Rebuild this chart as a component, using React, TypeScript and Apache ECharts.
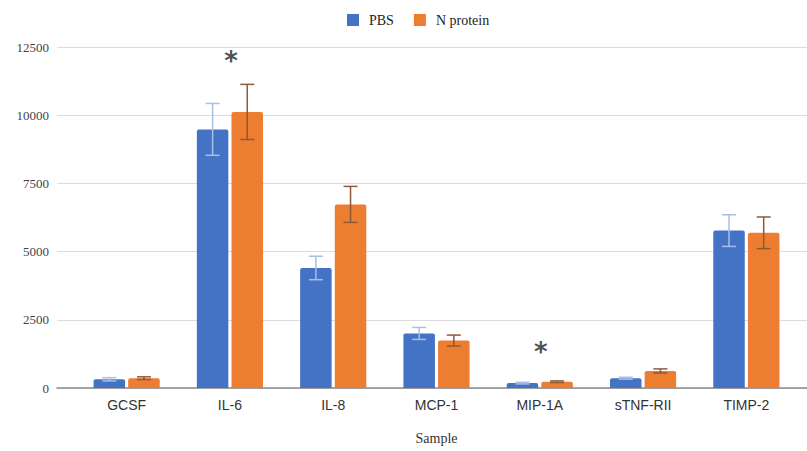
import React, { useEffect, useRef } from "react";
import * as echarts from "echarts";

// Cytokine levels by treatment group
const categories = ["GCSF", "IL-6", "IL-8", "MCP-1", "MIP-1A", "sTNF-RII", "TIMP-2"];
const pbsValues = [320, 9480, 4400, 2000, 180, 360, 5770];
const pbsErrors = [60, 950, 430, 220, 30, 35, 580];
const nProteinValues = [360, 10120, 6730, 1740, 230, 625, 5690];
const nProteinErrors = [50, 1010, 660, 200, 30, 75, 580];
// Height of the significance marker for each category (null = no marker)
const significanceHeights: (number | null)[] = [null, 12170, null, null, 1500, null, null];
const yTicks = { min: 0, max: 12500, interval: 2500 };

const BLUE = "#4472C4";
const ORANGE = "#ED7D31";
const BAR_RATIO = 0.305;
const GAP_RATIO = 0.1;

function errorSeries(name: string, values: number[], errors: number[], side: number, color: string) {
  return {
    type: "custom",
    name: name + " error",
    xAxisIndex: 1,
    yAxisIndex: 1,
    z: 5,
    silent: true,
    data: values.map((v, i) => [i, v, errors[i]]),
    renderItem: (params: any, api: any) => {
      const idx = api.value(0);
      const v = api.value(1);
      const e = api.value(2);
      const center = api.coord([idx, v]);
      const band = api.size([1, 0])[0];
      const bw = band * BAR_RATIO;
      const x = center[0] + side * (bw + bw * GAP_RATIO) / 2;
      const top = api.coord([idx, v + e])[1];
      const bot = api.coord([idx, v - e])[1];
      const cap = 7;
      const style = { stroke: color, lineWidth: 1.5 };
      return {
        type: "group",
        children: [
          { type: "line", shape: { x1: x, y1: top, x2: x, y2: bot }, style },
          { type: "line", shape: { x1: x - cap, y1: top, x2: x + cap, y2: top }, style },
          { type: "line", shape: { x1: x - cap, y1: bot, x2: x + cap, y2: bot }, style },
        ],
      };
    },
  };
}

export default function App() {
  const ref = useRef<HTMLDivElement>(null);

  useEffect(() => {
    if (!ref.current) return;
    const chart = echarts.init(ref.current, null, { renderer: "svg" });
    const serif = "'Liberation Serif', 'DejaVu Serif', serif";
    const sans = "'Liberation Sans', Arial, sans-serif";

    chart.setOption({
      animation: false,
      backgroundColor: "#ffffff",
      legend: {
        data: ["PBS", "N protein"],
        left: 342,
        top: 8,
        icon: "rect",
        itemWidth: 12,
        itemHeight: 12,
        itemGap: 20,
        textStyle: { fontFamily: serif, fontSize: 14, color: "#222", padding: [0, 0, 0, 5] },
      },
      grid: [
        { left: 57, right: 0, top: 47, bottom: 63 },
        { left: 75, right: 9, top: 47, bottom: 63 },
      ],
      xAxis: [
        {
          type: "value",
          gridIndex: 0,
          min: 0,
          max: 1,
          axisLine: { show: true, onZero: true, lineStyle: { color: "#8a8a8a", width: 1.5 } },
          axisTick: { show: false },
          axisLabel: { show: false },
          splitLine: { show: false },
        },
        {
          type: "category",
          gridIndex: 1,
          data: categories,
          axisLine: { show: false },
          axisTick: { show: false },
          axisLabel: { fontFamily: sans, fontSize: 14, color: "#333", margin: 10 },
          name: "Sample",
          nameLocation: "middle",
          nameGap: 43,
          nameTextStyle: { fontFamily: serif, fontSize: 14, color: "#333" },
        },
      ],
      yAxis: [
        {
          type: "value",
          gridIndex: 0,
          min: yTicks.min,
          max: yTicks.max,
          interval: yTicks.interval,
          axisLine: { show: false },
          axisTick: { show: false },
          axisLabel: {
            fontFamily: serif,
            fontSize: 13,
            color: "#444",
            margin: 8,
            formatter: (v: number) => String(v),
          },
          splitLine: { lineStyle: { color: "#dcdcdc", width: 1 } },
        },
        {
          type: "value",
          gridIndex: 1,
          min: yTicks.min,
          max: yTicks.max,
          interval: yTicks.interval,
          show: false,
          splitLine: { show: false },
        },
      ],
      series: [
        {
          name: "PBS",
          type: "bar",
          xAxisIndex: 1,
          yAxisIndex: 1,
          data: pbsValues,
          barWidth: (BAR_RATIO * 100).toFixed(1) + "%",
          barGap: GAP_RATIO * 100 + "%",
          itemStyle: { color: BLUE, borderRadius: [2, 2, 0, 0] },
        },
        {
          name: "N protein",
          type: "bar",
          xAxisIndex: 1,
          yAxisIndex: 1,
          data: nProteinValues,
          barWidth: (BAR_RATIO * 100).toFixed(1) + "%",
          barGap: GAP_RATIO * 100 + "%",
          itemStyle: { color: ORANGE, borderRadius: [2, 2, 0, 0] },
        },
        errorSeries("PBS", pbsValues, pbsErrors, -1, "#a9bfe6"),
        errorSeries("N protein", nProteinValues, nProteinErrors, 1, "#8e5a37"),
        {
          name: "significance",
          type: "scatter",
          xAxisIndex: 1,
          yAxisIndex: 1,
          symbolSize: 0,
          silent: true,
          data: significanceHeights
            .map((h, i) => (h === null ? null : [i, h]))
            .filter((d) => d !== null),
          label: {
            show: true,
            position: "inside",
            formatter: "*",
            fontFamily: "'DejaVu Sans', sans-serif",
            fontSize: 26,
            fontWeight: "bold",
            color: "#222",
            offset: [1, 5],
          },
        },
      ],
    });

    return () => chart.dispose();
  }, []);

  return (
    <div
      ref={ref}
      style={{ position: "absolute", left: 0, top: 0, width: 807, height: 451 }}
    />
  );
}
